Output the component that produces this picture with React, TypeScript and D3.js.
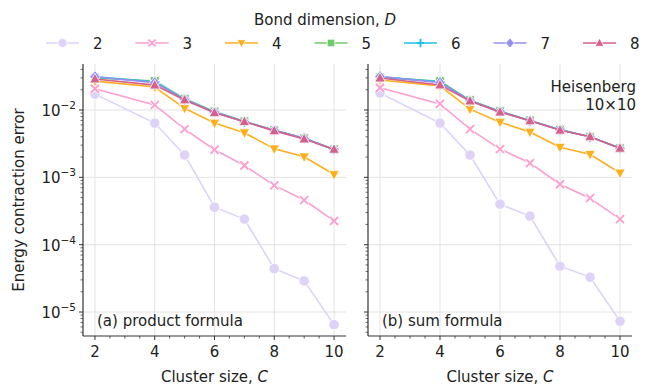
import React from "react";
import * as d3 from "d3";

const clusterSizes = [2, 4, 5, 6, 7, 8, 9, 10];
const bondDims = [2, 3, 4, 5, 6, 7, 8];

// energy contraction error per bond dimension, (a) product formula
const productErr: number[][] = [
  [0.0172, 0.0064, 0.00215, 3.6e-4, 2.4e-4, 4.4e-5, 2.9e-5, 6.5e-6],
  [0.0207, 0.0119, 0.0052, 0.00257, 0.0015, 7.6e-4, 4.6e-4, 2.25e-4],
  [0.0268, 0.0219, 0.0106, 0.0064, 0.0046, 0.00265, 0.00202, 0.0011],
  [0.0300, 0.0270, 0.0147, 0.0095, 0.0068, 0.0050, 0.0038, 0.0026],
  [0.0310, 0.0262, 0.0144, 0.0093, 0.0067, 0.0050, 0.0038, 0.0026],
  [0.0312, 0.0255, 0.0143, 0.0093, 0.0067, 0.0050, 0.0038, 0.0026],
  [0.0288, 0.0234, 0.0141, 0.0091, 0.0067, 0.0049, 0.0037, 0.0026],
];

// (b) sum formula
const sumErr: number[][] = [
  [0.0179, 0.0064, 0.00214, 4.0e-4, 2.66e-4, 4.8e-5, 3.3e-5, 7.3e-6],
  [0.0214, 0.0123, 0.0052, 0.00263, 0.00163, 7.9e-4, 4.9e-4, 2.4e-4],
  [0.0279, 0.0228, 0.0103, 0.0066, 0.0047, 0.0028, 0.0022, 0.00116],
  [0.0305, 0.0268, 0.0140, 0.0096, 0.0070, 0.0051, 0.0040, 0.0027],
  [0.0310, 0.0262, 0.0138, 0.0095, 0.0069, 0.0051, 0.0040, 0.0027],
  [0.0315, 0.0255, 0.0137, 0.0095, 0.0069, 0.0051, 0.0040, 0.0027],
  [0.0298, 0.0235, 0.0136, 0.0093, 0.0069, 0.0050, 0.0040, 0.0027],
];

const colors = ["#ded2f7", "#fc9fd0", "#fdaf1c", "#6ecb6a", "#1ec0ea", "#958ff0", "#d4608b"];
const markers = ["circle", "x", "tri_down", "square", "plus", "diamond", "tri_up"];
const xTicks = [2, 4, 6, 8, 10];
const yTicks = [1e-5, 1e-4, 1e-3, 1e-2];
const panelLabels = ["(a) product formula", "(b) sum formula"];

const W = 650;
const H = 385;
const top = 64;
const bottom = 336;
const panels = [
  { left: 83, right: 346, data: productErr },
  { left: 368, right: 632, data: sumErr },
];
const font = "DejaVu Sans, sans-serif";
const fs = 15;

function Marker({ kind, x, y, color, s = 1 }: { kind: string; x: number; y: number; color: string; s?: number }) {
  const r = 5.2 * s;
  if (kind === "x" || kind === "plus") {
    const a = kind === "x" ? 4 * s : 5 * s;
    const d =
      kind === "x"
        ? `M${x - a},${y - a}L${x + a},${y + a}M${x - a},${y + a}L${x + a},${y - a}`
        : `M${x - a},${y}L${x + a},${y}M${x},${y - a}L${x},${y + a}`;
    return (
      <g>
        <path d={d} stroke="#fff" strokeWidth={3.6} />
        <path d={d} stroke={color} strokeWidth={1.9} />
      </g>
    );
  }
  let d = "";
  if (kind === "circle") {
    return <circle cx={x} cy={y} r={r} fill={color} stroke="#fff" strokeWidth={0.8} />;
  } else if (kind === "square") {
    const a = r * 0.85;
    d = `M${x - a},${y - a}H${x + a}V${y + a}H${x - a}Z`;
  } else if (kind === "diamond") {
    const a = r * 1.15;
    d = `M${x},${y - a}L${x + a * 0.85},${y}L${x},${y + a}L${x - a * 0.85},${y}Z`;
  } else if (kind === "tri_up") {
    d = `M${x},${y - r * 1.1}L${x + r},${y + r * 0.75}L${x - r},${y + r * 0.75}Z`;
  } else {
    d = `M${x},${y + r * 1.1}L${x + r},${y - r * 0.75}L${x - r},${y - r * 0.75}Z`;
  }
  return <path d={d} fill={color} stroke="#fff" strokeWidth={0.8} />;
}

function Panel({ idx }: { idx: number }) {
  const p = panels[idx];
  const x = d3.scaleLinear().domain([1.6, 10.4]).range([p.left, p.right]);
  const y = d3.scaleLog().domain([10 ** -5.356, 10 ** -1.317]).range([bottom, top]);
  const minorX = d3.range(2, 10.01, 0.5).filter((v) => v % 2 !== 0);
  const minorY: number[] = [];
  for (let e = -6; e <= -1; e++) {
    for (let k = 2; k <= 9; k++) {
      const v = k * 10 ** e;
      if (y(v) >= top && y(v) <= bottom) minorY.push(v);
    }
  }
  const line = d3
    .line<number>()
    .x((_, i) => x(clusterSizes[i]))
    .y((d) => y(d));

  return (
    <g>
      {xTicks.map((t) => (
        <line key={"gx" + t} x1={x(t)} x2={x(t)} y1={top} y2={bottom} stroke="#e3e3e3" strokeWidth={1} />
      ))}
      {yTicks.map((t) => (
        <line key={"gy" + t} x1={p.left} x2={p.right} y1={y(t)} y2={y(t)} stroke="#e3e3e3" strokeWidth={1} />
      ))}
      {p.data.map((series, si) => (
        <g key={si}>
          <path d={line(series) || ""} fill="none" stroke={colors[si]} strokeWidth={1.6} />
          {series.map((v, i) => (
            <Marker key={i} kind={markers[si]} x={x(clusterSizes[i])} y={y(v)} color={colors[si]} />
          ))}
        </g>
      ))}
      {/* spines */}
      <line x1={p.left} x2={p.left} y1={top} y2={bottom} stroke="#333" strokeWidth={1.2} />
      <line x1={p.left} x2={p.right} y1={bottom} y2={bottom} stroke="#333" strokeWidth={1.2} />
      {xTicks.map((t) => (
        <g key={"xt" + t}>
          <line x1={x(t)} x2={x(t)} y1={bottom} y2={bottom + 4} stroke="#333" strokeWidth={1} />
          <text x={x(t)} y={bottom + 21} textAnchor="middle" fontSize={fs} fill="#222">
            {t}
          </text>
        </g>
      ))}
      {minorX.map((t) => (
        <line key={"mx" + t} x1={x(t)} x2={x(t)} y1={bottom} y2={bottom + 2.5} stroke="#333" strokeWidth={0.8} />
      ))}
      {yTicks.map((t) => (
        <g key={"yt" + t}>
          <line x1={p.left - 4} x2={p.left} y1={y(t)} y2={y(t)} stroke="#333" strokeWidth={1} />
          {idx === 0 && (
            <text x={p.left - 7} y={y(t) + 6} textAnchor="end" fontSize={fs} fill="#222">
              10
              <tspan dy={-7} fontSize={10.5}>
                {"\u2212" + Math.round(-Math.log10(t))}
              </tspan>
            </text>
          )}
        </g>
      ))}
      {minorY.map((t) => (
        <line key={"my" + t} x1={p.left - 2.5} x2={p.left} y1={y(t)} y2={y(t)} stroke="#333" strokeWidth={0.7} />
      ))}
      <text x={p.left + 14} y={326} fontSize={fs} fill="#222">
        {panelLabels[idx]}
      </text>
      <text x={(p.left + p.right) / 2} y={382} textAnchor="middle" fontSize={fs} fill="#222">
        Cluster size, <tspan fontStyle="italic">C</tspan>
      </text>
    </g>
  );
}

export default function App() {
  const legendX = d3.scalePoint<number>().domain(bondDims).range([46, 583]);
  return (
    <svg width={W} height={H} style={{ position: "absolute", left: 0, top: 0, fontFamily: font }}>
      <rect width={W} height={H} fill="#fff" />
      <text x={325} y={25} textAnchor="middle" fontSize={fs} fill="#222">
        Bond dimension, <tspan fontStyle="italic">D</tspan>
      </text>
      {bondDims.map((dv, i) => {
        const lx = legendX(dv) || 0;
        return (
          <g key={dv}>
            <line x1={lx} x2={lx + 33} y1={43} y2={43} stroke={colors[i]} strokeWidth={1.6} />
            <Marker kind={markers[i]} x={lx + 16.5} y={43} color={colors[i]} s={0.85} />
            <text x={lx + 47} y={48.5} fontSize={fs} fill="#222">
              {dv}
            </text>
          </g>
        );
      })}
      <Panel idx={0} />
      <Panel idx={1} />
      <text x={636} y={92} textAnchor="end" fontSize={fs} fill="#222">
        Heisenberg
      </text>
      <text x={636} y={110} textAnchor="end" fontSize={fs} fill="#222">
        10×10
      </text>
      <text
        transform={`translate(24,${(top + bottom) / 2}) rotate(-90)`}
        textAnchor="middle"
        fontSize={fs}
        fill="#222"
      >
        Energy contraction error
      </text>
    </svg>
  );
}
